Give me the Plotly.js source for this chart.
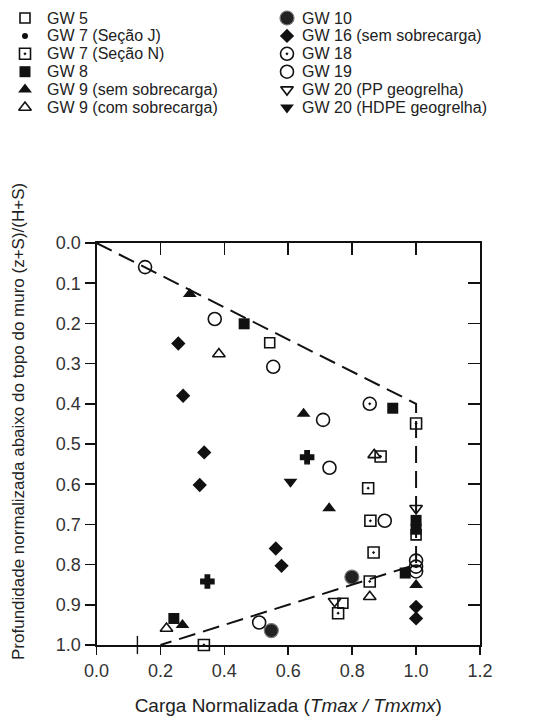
<!DOCTYPE html>
<html><head><meta charset="utf-8">
<script src="https://cdn.plot.ly/plotly-3.0.1.min.js"></script>
<style>html,body{margin:0;padding:0;background:#fff}</style>
</head><body><div id="chart" style="width:536px;height:720px"></div>
<script>
// ---------- data ----------
const seriesNames = ["GW 5", "GW 7 (Seção J)", "GW 7 (Seção N)", "GW 8",
  "GW 9 (sem sobrecarga)", "GW 9 (com sobrecarga)", "GW 10", "GW 16 (sem sobrecarga)",
  "GW 18", "GW 19", "GW 20 (PP geogrelha)", "GW 20 (HDPE geogrelha)"];

const gw5X  = [0.542, 1.000, 0.771];
const gw5Y  = [0.248, 0.726, 0.896];
const gw7jX = [0.347, 0.659, 0.128];
const gw7jY = [0.842, 0.533, 1.000];
const gw7nX = [0.336, 1.000, 0.889, 0.850, 0.857, 0.867, 0.855, 0.756];
const gw7nY = [1.000, 0.449, 0.531, 0.610, 0.691, 0.770, 0.842, 0.921];
const gw8X  = [0.462, 0.927, 1.000, 1.000, 0.966, 0.242];
const gw8Y  = [0.201, 0.411, 0.690, 0.712, 0.821, 0.934];
const gw9sX = [0.292, 0.648, 0.728, 1.000, 0.269];
const gw9sY = [0.127, 0.425, 0.660, 0.851, 0.950];
const gw9cX = [0.383, 0.869, 0.855, 0.219];
const gw9cY = [0.276, 0.527, 0.880, 0.959];
const gw10X = [0.799, 0.547];
const gw10Y = [0.831, 0.964];
const gw16X = [0.256, 0.271, 0.337, 0.323, 0.561, 0.579, 1.000, 1.000];
const gw16Y = [0.250, 0.380, 0.521, 0.602, 0.760, 0.803, 0.905, 0.934];
const gw18X = [0.855, 1.000];
const gw18Y = [0.400, 0.805];
const gw19X = [0.152, 0.370, 0.553, 0.709, 0.729, 0.902, 1.000, 1.000, 0.509];
const gw19Y = [0.060, 0.189, 0.308, 0.440, 0.559, 0.691, 0.790, 0.817, 0.944];
const gw20pX = [1.000, 0.745];
const gw20pY = [0.660, 0.891];
const gw20hX = [0.607];
const gw20hY = [0.594];

const envelopeX = [0.0, 1.0, 1.0, 0.2];
const envelopeY = [0.0, 0.4, 0.8, 1.0];

const xTickVals = [0.0, 0.2, 0.4, 0.6, 0.8, 1.0, 1.2];
const yTickVals = [0.0, 0.1, 0.2, 0.3, 0.4, 0.5, 0.6, 0.7, 0.8, 0.9, 1.0];
const xTitle = "Carga Normalizada (<i>Tmax / Tmxmx</i>)";
const yTitle = "Profundidade normalizada abaixo do topo do muro (z+S)/(H+S)";

const seriesX = [gw5X, gw7jX, gw7nX, gw8X, gw9sX, gw9cX, gw10X, gw16X, gw18X, gw19X, gw20pX, gw20hX];
const seriesY = [gw5Y, gw7jY, gw7nY, gw8Y, gw9sY, gw9cY, gw10Y, gw16Y, gw18Y, gw19Y, gw20pY, gw20hY];

// ---------- styles ----------
const INK = '#111';
const FONT = 'Liberation Sans, Arial, sans-serif';
const styles = [
  {symbol: 'square-open', size: 10, color: INK, lw: 1.6},
  {symbol: ['cross', 'cross', 'line-ns-open'], size: [11, 11, 13], color: INK, lw: 1.4,
   legendSymbol: 'circle', legendSize: 6, legendLw: 0},
  {symbol: 'square-open-dot', size: 11, color: INK, lw: 1.6},
  {symbol: 'square', size: 11, color: INK, lw: 0},
  {symbol: 'triangle-up', size: 12, color: INK, lw: 0},
  {symbol: 'triangle-up-open', size: 11, color: INK, lw: 1.6},
  {symbol: 'circle', size: 14, color: '#222', lw: 1.2, lc: '#777'},
  {symbol: 'diamond', size: 11, color: INK, lw: 0},
  {symbol: 'circle-open-dot', size: 13, color: INK, lw: 1.6},
  {symbol: 'circle-open', size: 13, color: INK, lw: 1.6},
  {symbol: 'triangle-down-open', size: 11, color: INK, lw: 1.6},
  {symbol: 'triangle-down', size: 12, color: INK, lw: 0}
];

// ---------- geometry ----------
const W = 536, H = 720;
const M = {l: 10, r: 10, t: 10, b: 75};
const plotPx = {x0: 96.5, x1: 480, y0: 243, y1: 645};
const pw = W - M.l - M.r, ph = H - M.t - M.b;
const xDom = [(plotPx.x0 - M.l) / pw, (plotPx.x1 - M.l) / pw];
const yDom = [(H - M.b - plotPx.y1) / ph, (H - M.b - plotPx.y0) / ph];

const traces = [];
seriesNames.forEach((name, i) => {
  const s = styles[i];
  traces.push({
    type: 'scatter', mode: 'markers', name: name,
    x: seriesX[i], y: seriesY[i], xaxis: 'x', yaxis: 'y',
    showlegend: false, cliponaxis: false, hoverinfo: 'skip',
    marker: {symbol: s.symbol, size: s.size, color: s.color, opacity: 1,
             line: {width: s.lw, color: s.lc || INK}}
  });
});
traces.push({
  type: 'scatter', mode: 'lines', x: envelopeX, y: envelopeY,
  xaxis: 'x2', yaxis: 'y2', showlegend: false, hoverinfo: 'skip', cliponaxis: false,
  line: {color: INK, width: 2, dash: '17px,8px'}
});

// ---------- custom two-column legend (pixel space axes x3/y3) ----------
const legendCols = [{mx: 25, tx: 46}, {mx: 287, tx: 301}];
const legendRow0 = 18, legendStep = 17.9, perCol = 6;
const annotations = [];
seriesNames.forEach((name, i) => {
  const s = styles[i];
  const col = legendCols[Math.floor(i / perCol)];
  const ry = legendRow0 + (i % perCol) * legendStep;
  const lsize = s.legendSize || (Array.isArray(s.size) ? s.size[0] : s.size);
  const llw = (s.legendLw !== undefined) ? s.legendLw : s.lw;
  traces.push({
    type: 'scatter', mode: 'markers', x: [col.mx], y: [ry], xaxis: 'x3', yaxis: 'y3',
    showlegend: false, hoverinfo: 'skip', cliponaxis: false,
    marker: {symbol: s.legendSymbol || s.symbol, size: lsize, color: s.color, opacity: 1,
             line: {width: llw, color: s.lc || INK}}
  });
  annotations.push({
    xref: 'x3', yref: 'y3', x: col.tx, y: ry, text: name, showarrow: false,
    xanchor: 'left', yanchor: 'middle', borderpad: 0,
    font: {family: FONT, size: 16, color: '#222'}
  });
});
annotations.push({
  xref: 'paper', yref: 'paper', x: (18 - M.l) / pw, y: (H - M.b - 422) / ph,
  text: yTitle, textangle: -90, showarrow: false, xanchor: 'center', yanchor: 'middle',
  font: {family: FONT, size: 17, color: '#222'}
});

const axisBase = {showgrid: false, zeroline: false, showline: true, linecolor: INK,
  linewidth: 2, tickcolor: INK, tickwidth: 1.6, automargin: false};

const layout = {
  width: W, height: H, margin: M,
  paper_bgcolor: '#fff', plot_bgcolor: 'rgba(0,0,0,0)',
  font: {family: FONT, color: '#222'},
  showlegend: false,
  xaxis: Object.assign({}, axisBase, {
    domain: xDom, range: [0, 1.2], anchor: 'y', tickmode: 'array', tickvals: xTickVals,
    tickformat: '.1f', ticks: 'outside', ticklen: 8,
    tickfont: {family: FONT, size: 18, color: '#333'},
    title: {text: xTitle, font: {family: FONT, size: 19, color: '#222'}, standoff: 19}
  }),
  yaxis: Object.assign({}, axisBase, {
    domain: yDom, range: [1, 0], anchor: 'x', tickmode: 'array', tickvals: yTickVals,
    tickformat: '.1f', ticks: 'outside', ticklen: 10,
    tickfont: {family: FONT, size: 18, color: '#333'}
  }),
  xaxis2: Object.assign({}, axisBase, {
    domain: xDom, range: [0, 1.2], overlaying: 'x', side: 'top', anchor: 'y2',
    tickmode: 'array', tickvals: xTickVals.slice(1, -1), ticks: 'inside', ticklen: 12,
    showticklabels: false
  }),
  yaxis2: Object.assign({}, axisBase, {
    domain: yDom, range: [1, 0], overlaying: 'y', side: 'right', anchor: 'x2',
    tickmode: 'array', tickvals: yTickVals.slice(1, -1), ticks: 'inside', ticklen: 12,
    showticklabels: false
  }),
  xaxis3: {domain: [0, 1], range: [M.l, W - M.r], visible: false, anchor: 'y3', fixedrange: true},
  yaxis3: {domain: [0, 1], range: [H - M.b, M.t], visible: false, anchor: 'x3', fixedrange: true},
  annotations: annotations
};

Plotly.newPlot('chart', traces, layout, {staticPlot: true, displayModeBar: false});
</script>
</body></html>
